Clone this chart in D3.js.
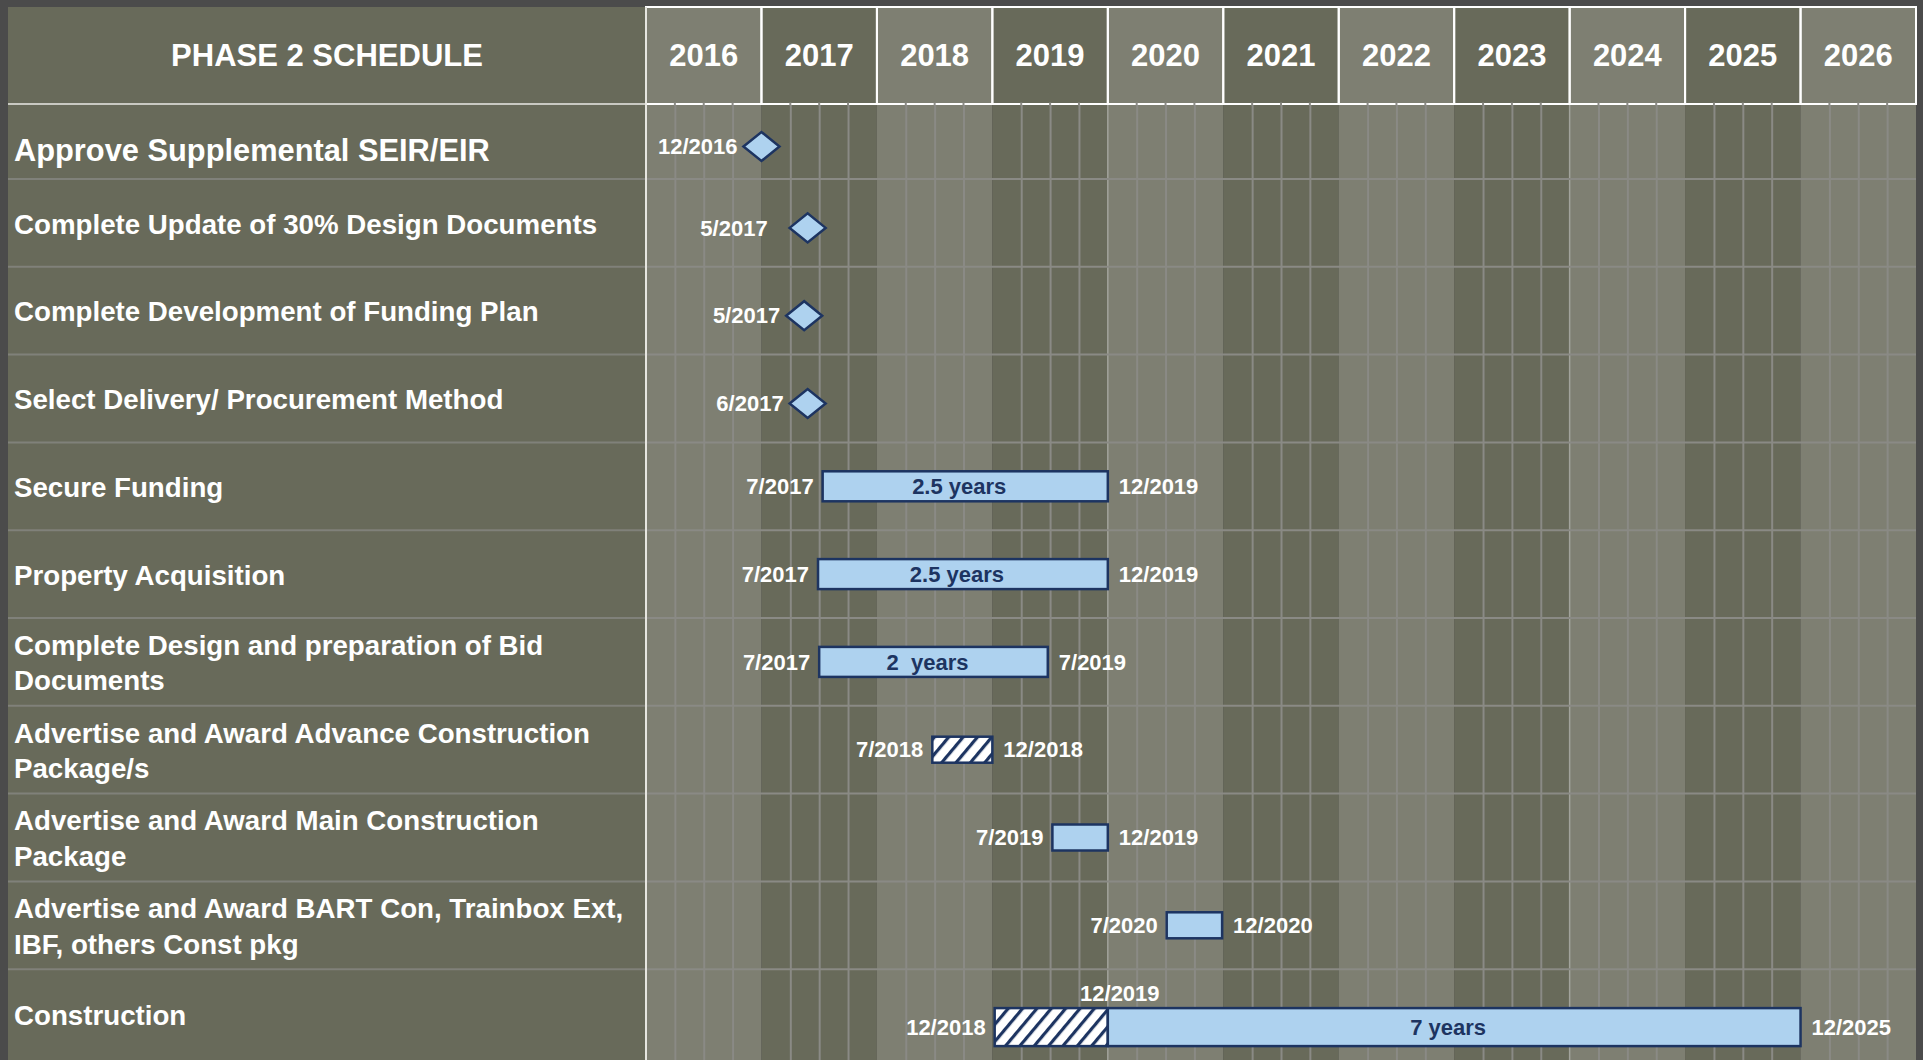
<!DOCTYPE html>
<html><head><meta charset="utf-8">
<script src="https://cdn.jsdelivr.net/npm/d3@7"></script>
<style>
html,body{margin:0;padding:0;background:#4b4b4b;overflow:hidden}
svg{display:block}
text{font-family:"Liberation Sans",Arial,Helvetica,sans-serif;font-weight:bold;white-space:pre}
</style>
</head><body>
<svg id="chart" width="1923" height="1060"></svg>
<script>
// ---------------- data ----------------
const title = "PHASE 2 SCHEDULE";
const years = [2016, 2017, 2018, 2019, 2020, 2021, 2022, 2023, 2024, 2025, 2026];
const tasks = [
  "Approve Supplemental SEIR/EIR",
  "Complete Update of 30% Design Documents",
  "Complete Development of Funding Plan",
  "Select Delivery/ Procurement Method",
  "Secure Funding",
  "Property Acquisition",
  "Complete Design and preparation of Bid\nDocuments",
  "Advertise and Award Advance Construction\nPackage/s",
  "Advertise and Award Main Construction\nPackage",
  "Advertise and Award BART Con, Trainbox Ext,\nIBF, others Const pkg",
  "Construction"
];
// milestones (position read as decimal year)
const milestoneRow   = [0, 1, 2, 3];
const milestoneDate  = [2017.0, 2017.40, 2017.37, 2017.40];
const milestoneLabel = ["12/2016", "5/2017", "5/2017", "6/2017"];
// bars (start / end read as decimal years)
const barRow        = [4, 5, 6, 7, 8, 9, 10, 10];
const barStart      = [2017.53, 2017.49, 2017.50, 2018.48, 2019.52, 2020.51, 2019.02, 2020.0];
const barEnd        = [2020.0, 2020.0, 2019.48, 2019.0, 2020.0, 2020.99, 2020.0, 2026.0];
const barHatched    = [false, false, false, true, false, false, true, false];
const barText       = ["2.5 years", "2.5 years", "2  years", "", "", "", "", "7 years"];
const barStartLabel = ["7/2017", "7/2017", "7/2017", "7/2018", "7/2019", "7/2020", "12/2018", ""];
const barEndLabel   = ["12/2019", "12/2019", "7/2019", "12/2018", "12/2019", "12/2020", "", "12/2025"];
// label above the junction of the construction bar
const junctionRow = [10];
const junctionDate = [2020.0];
const junctionLabel = ["12/2019"];

// ---------------- layout ----------------
const W = 1923, H = 1060;
const LEFT = 8, GL = 646, GR = 1916, TOP = 7, HB = 104, R0B = 179, RH = 87.8;
const LIGHT = "#7e7f72", DARK = "#686a5a", BLUE = "#aed2ef", NAVY = "#1d3461";
const GRID = "#8a8a85";

const svg = d3.select("#chart");
const x = d3.scaleLinear().domain([2016, 2027]).range([GL, GR]);
const xb = d3.scaleBand().domain(years).range([GL, GR]).padding(0);

const rowTop = i => i === 0 ? HB : R0B + (i - 1) * RH;
const rowBot = i => i === 0 ? R0B : (i === tasks.length - 1 ? H : R0B + i * RH);
const rowMid = i => (rowTop(i) + rowBot(i)) / 2;

// defs: hatch
const defs = svg.append("defs");
const pat = defs.append("pattern").attr("id", "hatch").attr("patternUnits", "userSpaceOnUse")
  .attr("width", 11).attr("height", 11).attr("patternTransform", "rotate(40)");
pat.append("rect").attr("width", 11).attr("height", 11).attr("fill", "#ffffff");
pat.append("rect").attr("width", 3.2).attr("height", 11).attr("fill", NAVY);

// frame background
svg.append("rect").attr("width", W).attr("height", H).attr("fill", "#4b4b4b");

// label column
svg.append("rect").attr("x", LEFT).attr("y", TOP).attr("width", GL - LEFT).attr("height", H - TOP).attr("fill", DARK);

// year columns (body + header)
svg.append("g").selectAll("rect").data(years).join("rect")
  .attr("x", d => xb(d)).attr("y", TOP).attr("width", xb.bandwidth()).attr("height", H - TOP)
  .attr("fill", (d, i) => i % 2 === 0 ? LIGHT : DARK);

// quarter grid lines via axis
const quarters = [];
years.forEach(y => [0.25, 0.5, 0.75].forEach(q => quarters.push(y + q)));
const grid = svg.append("g").attr("transform", `translate(0,${HB - 1})`)
  .call(d3.axisBottom(x).tickValues(quarters).tickSize(H - HB + 1).tickFormat(""));
grid.select(".domain").remove();
grid.selectAll(".tick line").attr("stroke", GRID).attr("stroke-width", 2);

// faint lighter year lines
svg.append("g").selectAll("line").data([2020, 2024]).join("line")
  .attr("x1", d => x(d)).attr("x2", d => x(d)).attr("y1", HB).attr("y2", H)
  .attr("stroke", "#a2a39c").attr("stroke-width", 1.5);

// row separators
const seps = d3.range(0, tasks.length - 1).map(rowBot);
svg.append("g").selectAll("line").data(seps).join("line")
  .attr("x1", LEFT).attr("x2", GL).attr("y1", d => d).attr("y2", d => d)
  .attr("stroke", "#80817a").attr("stroke-width", 2);
svg.append("g").selectAll("line").data(seps).join("line")
  .attr("x1", GL).attr("x2", GR).attr("y1", d => d).attr("y2", d => d)
  .attr("stroke", GRID).attr("stroke-width", 2);

// header bottom line (label column)
svg.append("line").attr("x1", LEFT).attr("x2", GL).attr("y1", HB).attr("y2", HB)
  .attr("stroke", "#c9c9c2").attr("stroke-width", 2);
// header year cells with white borders
const hdr = svg.append("g");
hdr.selectAll("rect").data(years).join("rect")
  .attr("x", d => xb(d)).attr("y", TOP).attr("width", xb.bandwidth()).attr("height", HB - TOP)
  .attr("fill", "none").attr("stroke", "#ffffff").attr("stroke-width", 2);
// quarter ticks over header bottom line (dashed look)
svg.append("g").selectAll("line").data(quarters).join("line")
  .attr("x1", d => x(d)).attr("x2", d => x(d)).attr("y1", HB - 1.5).attr("y2", HB + 1.5)
  .attr("stroke", GRID).attr("stroke-width", 2);

// left column divider
svg.append("line").attr("x1", GL).attr("x2", GL).attr("y1", TOP).attr("y2", H)
  .attr("stroke", "#e6e6e0").attr("stroke-width", 2);

// header texts
svg.append("text").attr("x", (LEFT + GL) / 2).attr("y", (TOP + HB) / 2).attr("dy", "0.35em")
  .attr("text-anchor", "middle").attr("fill", "#fff").attr("font-size", 31).text(title);
hdr.selectAll("text").data(years).join("text")
  .attr("x", d => xb(d) + xb.bandwidth() / 2).attr("y", (TOP + HB) / 2).attr("dy", "0.35em")
  .attr("text-anchor", "middle").attr("fill", "#fff").attr("font-size", 31).text(d => d);

// task labels
const lab = svg.append("g").selectAll("text").data(tasks).join("text")
  .attr("fill", "#fff").attr("font-size", (d, i) => i === 0 ? 30.8 : 27.7)
  .attr("x", 14);
lab.each(function (d, i) {
  const lines = d.split("\n");
  const lh = 35.7;
  const c = rowMid(i) + (i === 0 ? 9 : 1);
  const t = d3.select(this);
  lines.forEach((ln, k) => {
    t.append("tspan").attr("x", 14).attr("y", c + (k - (lines.length - 1) / 2) * lh)
      .attr("dy", "0.35em").text(ln);
  });
});

// milestones
const ms = d3.range(milestoneRow.length);
const msY = i => rowMid(milestoneRow[i]) + 5;
const gm = svg.append("g");
gm.selectAll("path").data(ms).join("path")
  .attr("d", i => {
    const cx = x(milestoneDate[i]), cy = msY(i), hw = 18, hh = 14.5;
    return `M${cx - hw},${cy}L${cx},${cy - hh}L${cx + hw},${cy}L${cx},${cy + hh}Z`;
  })
  .attr("fill", BLUE).attr("stroke", NAVY).attr("stroke-width", 2.5).attr("stroke-linejoin", "miter");
gm.selectAll("text").data(ms).join("text")
  .attr("x", i => x(milestoneDate[i]) - (i === 1 ? 40 : 24)).attr("y", msY).attr("dy", "0.35em")
  .attr("text-anchor", "end").attr("fill", "#fff").attr("font-size", 22)
  .text(i => milestoneLabel[i]);

// bars
const bi = d3.range(barRow.length);
const hasJunction = r => junctionRow.includes(r);
const barY = i => rowMid(barRow[i]) + (hasJunction(barRow[i]) ? 12.5 : 0);
const barH = i => hasJunction(barRow[i]) ? 38 : ((barEnd[i] - barStart[i]) < 1 ? 26 : 30);
const gb = svg.append("g");
gb.selectAll("rect").data(bi).join("rect")
  .attr("x", i => x(barStart[i])).attr("width", i => x(barEnd[i]) - x(barStart[i]))
  .attr("y", i => barY(i) - barH(i) / 2).attr("height", barH)
  .attr("fill", i => barHatched[i] ? "url(#hatch)" : BLUE)
  .attr("stroke", NAVY).attr("stroke-width", 2.5);
gb.selectAll("text.in").data(bi.filter(i => barText[i])).join("text").attr("class", "in")
  .attr("x", i => (x(barStart[i]) + x(barEnd[i])) / 2 - 6).attr("y", barY).attr("dy", "0.35em")
  .attr("text-anchor", "middle").attr("fill", NAVY).attr("font-size", 22)
  .text(i => barText[i]);
gb.selectAll("text.st").data(bi.filter(i => barStartLabel[i])).join("text").attr("class", "st")
  .attr("x", i => x(barStart[i]) - 9).attr("y", barY).attr("dy", "0.35em")
  .attr("text-anchor", "end").attr("fill", "#fff").attr("font-size", 22)
  .text(i => barStartLabel[i]);
gb.selectAll("text.en").data(bi.filter(i => barEndLabel[i])).join("text").attr("class", "en")
  .attr("x", i => x(barEnd[i]) + 11).attr("y", barY).attr("dy", "0.35em")
  .attr("text-anchor", "start").attr("fill", "#fff").attr("font-size", 22)
  .text(i => barEndLabel[i]);
// junction label
svg.append("g").selectAll("text").data(d3.range(junctionRow.length)).join("text")
  .attr("x", i => x(junctionDate[i]) + 12).attr("y", i => rowMid(junctionRow[i]) + 12.5 - 34)
  .attr("dy", "0.35em").attr("text-anchor", "middle").attr("fill", "#fff").attr("font-size", 22)
  .text(i => junctionLabel[i]);
</script>
</body></html>
